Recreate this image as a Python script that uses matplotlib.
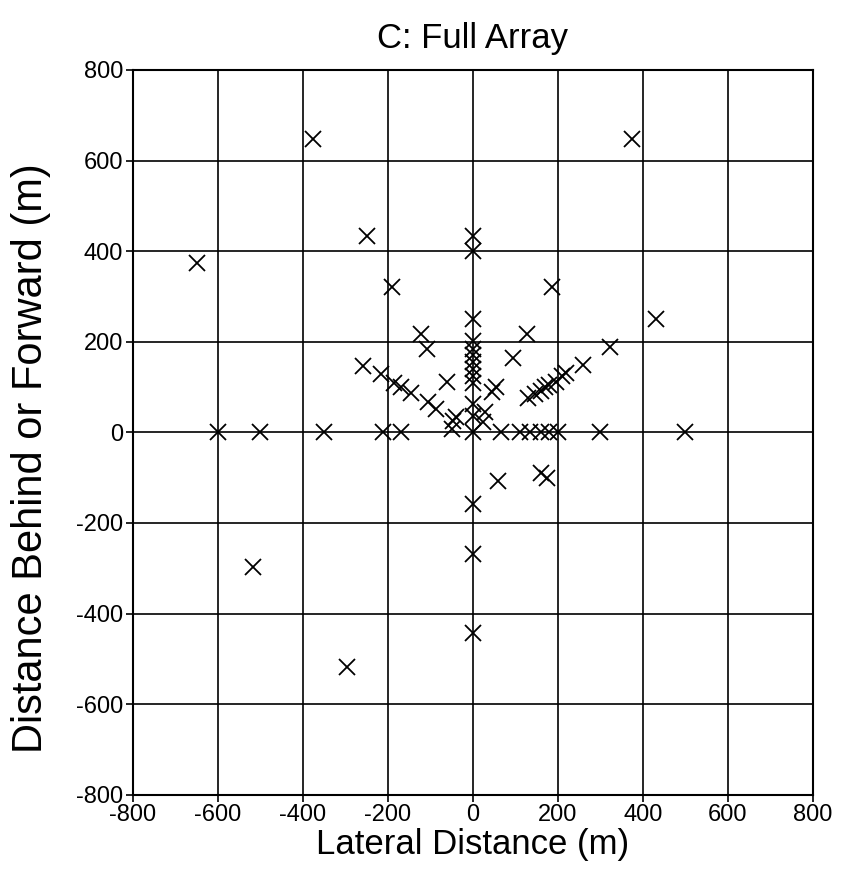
import matplotlib
matplotlib.use("Agg")
import matplotlib.pyplot as plt

plt.rcParams['font.family'] = ['Liberation Sans', 'DejaVu Sans']
plt.rcParams['axes.unicode_minus'] = False

# receiver positions (lateral, behind/forward) in metres
lateral = [
    -375, 375, -250, -650, 0, 0, -190, 185, 430, 0,
    -123, 128, -107, 95, 322, 0, 0, 0, 0, 0, 0,
    -258, -216, -185, -168, -145, -106, -86, -60, -40, -50, -47,
    55, 45, 29, 23, 0, 0, 0,
    130, 145, 160, 170, 180, 195, 210, 220, 258,
    -600, -500, -350, -212, -168, 0, 65, 110, 135, 160, 180, 200, 300, 500,
    60, 160, 175, 0, 0, 0, -518, -296,
]
forward = [
    648, 648, 433, 375, 433, 400, 321, 322, 250, 250,
    217, 217, 184, 164, 188, 202, 185, 170, 155, 140, 125,
    147, 128, 110, 100, 88, 66, 51, 112, 33, 8, 25,
    100, 90, 44, 22, 110, 62, 36,
    75, 85, 92, 100, 105, 112, 125, 132, 148,
    0, 0, 0, 0, 0, 0, 0, 0, 0, 0, 0, 0, 0, 0,
    -107, -89, -100, -159, -269, -442, -297, -518,
]

ticks = list(range(-800, 801, 200))

fig = plt.figure(figsize=(8.46, 8.86), dpi=100)
ax = fig.add_axes([0.157, 0.103, 0.804, 0.818])

ax.plot(lateral, forward, linestyle='none', marker='x', color='black',
        markersize=11, markeredgewidth=1.3, zorder=3)

ax.set_xlim(-800, 800)
ax.set_ylim(-800, 800)
ax.set_xticks(ticks)
ax.set_yticks(ticks)
ax.grid(True, color='black', linewidth=1.2)
ax.set_axisbelow(True)
ax.tick_params(direction='out', length=5, width=1.2, labelsize=17, pad=2)
for s in ax.spines.values():
    s.set_linewidth(1.5)

ax.set_title('C: Full Array', fontsize=25, pad=16)
ax.set_xlabel('Lateral Distance (m)', fontsize=25, labelpad=1)
ax.set_ylabel('Distance Behind or Forward (m)', fontsize=30)
ax.yaxis.set_label_coords(-0.12, 0.465)

fig.savefig('out.png', dpi=100)
